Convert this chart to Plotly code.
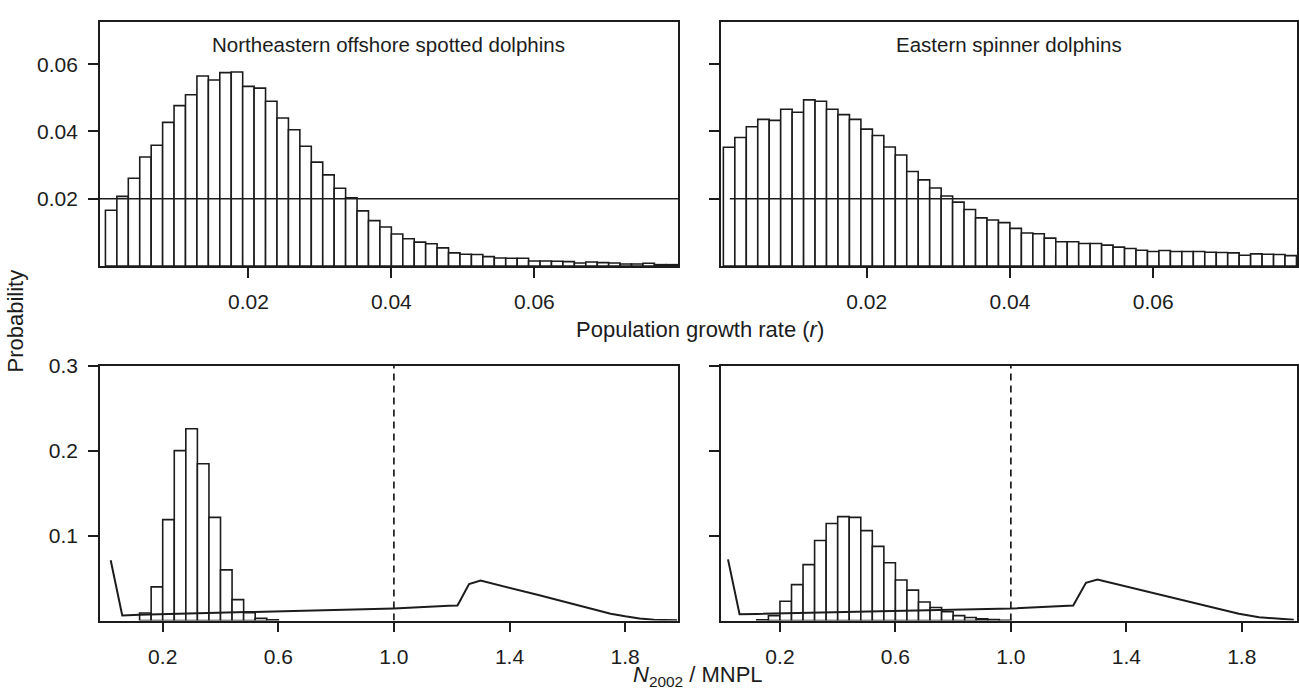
import numpy as np
import plotly.graph_objects as go

# ---------------- data ----------------
r_bin_width = 0.0016
r_bin_starts = [round(i * r_bin_width, 5) for i in range(50)]

spotted_r_prob = [0.0166, 0.0207, 0.0261, 0.0324, 0.0359, 0.0427, 0.0477, 0.0509, 0.0565, 0.0553,
                  0.0575, 0.0577, 0.0534, 0.0529, 0.0490, 0.0440, 0.0405, 0.0356, 0.0309, 0.0271,
                  0.0231, 0.0203, 0.0164, 0.0135, 0.0116, 0.0095, 0.0081, 0.0071, 0.0066, 0.0054,
                  0.0039, 0.0035, 0.0034, 0.0028, 0.0024, 0.0023, 0.0023, 0.0015, 0.0015, 0.0014,
                  0.0013, 0.0009, 0.0012, 0.0010, 0.0009, 0.0006, 0.0006, 0.0008, 0.0004, 0.0004]

spinner_r_prob = [0.0353, 0.0382, 0.0414, 0.0436, 0.0433, 0.0466, 0.0457, 0.0494, 0.0490, 0.0466,
                  0.0450, 0.0436, 0.0407, 0.0388, 0.0354, 0.0330, 0.0281, 0.0256, 0.0232, 0.0208,
                  0.0190, 0.0168, 0.0143, 0.0137, 0.0129, 0.0112, 0.0098, 0.0096, 0.0083, 0.0072,
                  0.0072, 0.0067, 0.0067, 0.0062, 0.0056, 0.0052, 0.0047, 0.0043, 0.0046, 0.0043,
                  0.0043, 0.0043, 0.0041, 0.0040, 0.0039, 0.0032, 0.0036, 0.0035, 0.0034, 0.0031]

n_bin_width = 0.04
spotted_n_starts = [0.12, 0.16, 0.20, 0.24, 0.28, 0.32, 0.36, 0.40, 0.44, 0.48, 0.52, 0.56]
spotted_n_prob = [0.0088, 0.0396, 0.1188, 0.2000, 0.2258, 0.1846, 0.1215, 0.0596, 0.0246, 0.0092,
                  0.0027, 0.0008]

spinner_n_starts = [0.12, 0.16, 0.20, 0.24, 0.28, 0.32, 0.36, 0.40, 0.44, 0.48, 0.52, 0.56, 0.60,
                    0.64, 0.68, 0.72, 0.76, 0.80, 0.84, 0.88, 0.92, 0.96]
spinner_n_prob = [0.0010, 0.0058, 0.0227, 0.0423, 0.0658, 0.0942, 0.1142, 0.1223, 0.1215, 0.1058,
                  0.0873, 0.0681, 0.0477, 0.0358, 0.0219, 0.0154, 0.0104, 0.0058, 0.0035, 0.0019,
                  0.0012, 0.0004]

spotted_prior_x = [0.02, 0.06, 0.12, 1.00, 1.19, 1.22, 1.26, 1.30, 1.50, 1.70, 1.75, 1.80, 1.85, 1.90, 1.98]
spotted_prior_y = [0.071, 0.006, 0.0068, 0.0143, 0.0173, 0.0178, 0.043, 0.047, 0.030, 0.012, 0.0081,
                   0.005, 0.0023, 0.0008, 0.0002]

spinner_prior_x = [0.02, 0.06, 0.12, 1.00, 1.216, 1.26, 1.30, 1.54, 1.72, 1.79, 1.86, 1.93, 1.98]
spinner_prior_y = [0.072, 0.0073, 0.0078, 0.0142, 0.0176, 0.0445, 0.0484, 0.029, 0.0138, 0.0081,
                   0.0038, 0.0019, 0.001]

r_threshold = 0.02
mnpl_ratio = 1.0

r_ticks = [0.02, 0.04, 0.06]
r_prob_ticks = [0.02, 0.04, 0.06]
n_ticks = [0.2, 0.6, 1.0, 1.4, 1.8]
n_prob_ticks = [0.1, 0.2, 0.3]

panel_titles = ["Northeastern offshore spotted dolphins", "Eastern spinner dolphins"]

# ---------------- figure ----------------
W, H = 1299, 690
INK = "#1c1c1c"
FONT = "Liberation Sans, Arial, Helvetica, sans-serif"


def px_x(p):
    return p / W


def px_y(p):
    return 1 - p / H


def centers(starts, w):
    return [s + w / 2 for s in starts]


fig = go.Figure()

bar_style = dict(marker=dict(color="white", line=dict(color=INK, width=1.6)), showlegend=False,
                 hoverinfo="x+y")

fig.add_trace(go.Bar(x=centers(r_bin_starts, r_bin_width), y=spotted_r_prob, width=r_bin_width,
                     xaxis="x", yaxis="y", **bar_style))
fig.add_trace(go.Bar(x=centers(r_bin_starts, r_bin_width), y=spinner_r_prob, width=r_bin_width,
                     xaxis="x2", yaxis="y2", **bar_style))
fig.add_trace(go.Bar(x=centers(spotted_n_starts, n_bin_width), y=spotted_n_prob, width=n_bin_width,
                     xaxis="x3", yaxis="y3", **bar_style))
fig.add_trace(go.Bar(x=centers(spinner_n_starts, n_bin_width), y=spinner_n_prob, width=n_bin_width,
                     xaxis="x4", yaxis="y4", **bar_style))

line_style = dict(mode="lines", line=dict(color=INK, width=2), showlegend=False)
fig.add_trace(go.Scatter(x=spotted_prior_x, y=spotted_prior_y, xaxis="x3", yaxis="y3", **line_style))
fig.add_trace(go.Scatter(x=spinner_prior_x, y=spinner_prior_y, xaxis="x4", yaxis="y4", **line_style))

left_dom = [px_x(100), px_x(678)]
right_dom = [px_x(720.5), px_x(1297.2)]
top_dom = [px_y(258.5), px_y(10)]
bot_dom = [px_y(619.3), px_y(360)]

tickfont = dict(family=FONT, size=21, color=INK)


def axis(domain, rng, ticks, anchor, labels=True):
    return dict(domain=domain, range=rng, anchor=anchor, tickvals=ticks,
                showticklabels=labels, ticks="outside", ticklen=10, tickwidth=1.6, tickcolor=INK,
                showline=True, linecolor=INK, linewidth=1.7, mirror=True, showgrid=False,
                zeroline=False, tickfont=tickfont, ticklabelstandoff=6, fixedrange=True)


fig.update_layout(
    width=W, height=H, margin=dict(l=0, r=0, t=0, b=0),
    paper_bgcolor="white", plot_bgcolor="white",
    font=dict(family=FONT, color=INK),
    xaxis=axis(left_dom, [-0.00076, 0.0801], r_ticks, "y"),
    yaxis=axis(top_dom, [0, 0.0726], r_prob_ticks, "x"),
    xaxis2=axis(right_dom, [-0.0004, 0.0801], r_ticks, "y2"),
    yaxis2=axis(top_dom, [0, 0.0726], r_prob_ticks, "x2", labels=False),
    xaxis3=axis(left_dom, [-0.017, 1.983], n_ticks, "y3"),
    yaxis3=axis(bot_dom, [0, 0.3], n_prob_ticks, "x3"),
    xaxis4=axis(right_dom, [-0.006, 1.992], n_ticks, "y4"),
    yaxis4=axis(bot_dom, [0, 0.3], n_prob_ticks, "x4", labels=False),
)
fig.update_layout(xaxis3=dict(tickformat=".1f"), xaxis4=dict(tickformat=".1f"),
                  yaxis3=dict(tickformat=".1f"))

# reference lines
fig.add_shape(type="line", xref="x", yref="y", x0=-0.00076, x1=0.0801, y0=r_threshold, y1=r_threshold,
              line=dict(color=INK, width=1.7))
fig.add_shape(type="line", xref="x2", yref="y2", x0=0.0009, x1=0.0801, y0=r_threshold, y1=r_threshold,
              line=dict(color=INK, width=1.7))
for xr, yr in (("x3", "y3"), ("x4", "y4")):
    fig.add_shape(type="line", xref=xr, yref=yr, x0=mnpl_ratio, x1=mnpl_ratio, y0=0, y1=0.3,
                  line=dict(color=INK, width=1.7, dash="7px,5px"))

# text
ann = dict(xref="paper", yref="paper", showarrow=False, xanchor="center", yanchor="middle")
title_font = dict(family=FONT, size=20.5, color=INK)
fig.add_annotation(text=panel_titles[0], x=(left_dom[0] + left_dom[1]) / 2, y=px_y(33),
                   font=title_font, **ann)
fig.add_annotation(text=panel_titles[1], x=(right_dom[0] + right_dom[1]) / 2, y=px_y(33),
                   font=title_font, **ann)
axis_title_font = dict(family=FONT, size=22, color=INK)
fig.add_annotation(text="Population growth rate (<i>r</i>)", x=px_x(700), y=px_y(323),
                   font=axis_title_font, **ann)
fig.add_annotation(text="<i>N</i><sub>2002</sub> / MNPL", x=px_x(698), y=px_y(676),
                   font=axis_title_font, **ann)
fig.add_annotation(text="Probability", x=px_x(16), y=px_y(315), textangle=-90,
                   font=axis_title_font, **ann)

fig.write_html("out.html")
